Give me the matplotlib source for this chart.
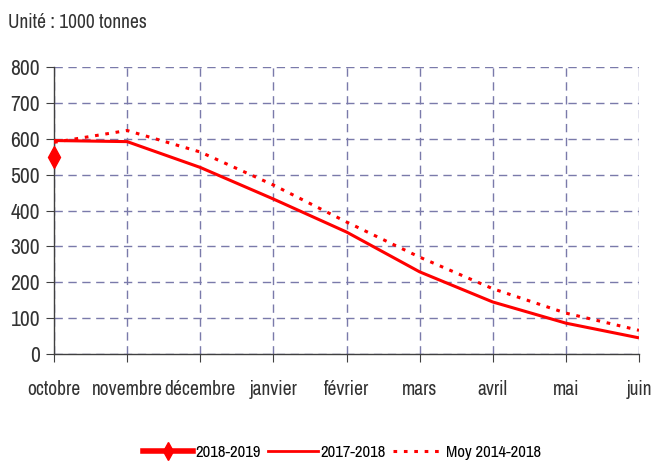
import matplotlib
matplotlib.use("Agg")
import matplotlib.pyplot as plt
from matplotlib.lines import Line2D

plt.rcParams['font.family'] = ['Archivo Narrow', 'Liberation Sans', 'DejaVu Sans']

months = ["octobre", "novembre", "décembre", "janvier", "février", "mars", "avril", "mai", "juin"]
s_2018_2019 = [548]
s_2017_2018 = [595, 592, 520, 432, 340, 229, 145, 86, 45]
s_moy = [590, 623, 563, 471, 368, 270, 182, 114, 66]
yticks = [0, 100, 200, 300, 400, 500, 600, 700, 800]

fig = plt.figure(figsize=(6.51, 4.63), dpi=100)
ax = fig.add_axes([0.083, 0.2354, 0.8986, 0.6199])

x = list(range(len(months)))
red = "#ff0000"
ax.plot(x, s_2017_2018, color=red, lw=2.2, solid_capstyle="butt", zorder=3)
ax.plot(x, s_moy, color=red, lw=2.2, linestyle=(0, (1.2, 2.2)), zorder=3)
ax.plot(x[:len(s_2018_2019)], s_2018_2019, color=red, lw=4, marker="d",
        markersize=11, zorder=4, clip_on=False)

ax.set_xlim(0, len(months) - 1)
ax.set_ylim(0, 800)
ax.set_xticks(x)
ax.set_xticklabels(months)
ax.set_yticks(yticks)
ax.grid(True, color="#7a7aaa", linestyle=(0, (6, 4)), lw=1.0)
ax.set_axisbelow(True)
for s in ["top", "right"]:
    ax.spines[s].set_visible(False)
for s in ["left", "bottom"]:
    ax.spines[s].set_color("#404040")
    ax.spines[s].set_linewidth(1.0)
ax.tick_params(axis="both", colors="#404040", labelcolor="#333333", length=6, direction="out")
ax.tick_params(axis="x", pad=13, labelsize=14)
ax.tick_params(axis="y", pad=4, labelsize=15.5)

fig.text(0.012, 0.952, "Unité : 1000 tonnes", fontsize=14, color="#333333", va="center", ha="left")

handles = [
    Line2D([], [], color=red, lw=4, marker="d", markersize=9),
    Line2D([], [], color=red, lw=2),
    Line2D([], [], color=red, lw=2.2, linestyle=(0, (1.2, 2.2))),
]
fig.legend(handles, ["2018-2019", "2017-2018", "Moy 2014-2018"], loc="center",
           bbox_to_anchor=(0.525, 0.022), ncol=3, frameon=False, fontsize=12,
           handlelength=3.0, handletextpad=0.15, columnspacing=0.45, borderpad=0)

fig.savefig("out.png", dpi=100)
